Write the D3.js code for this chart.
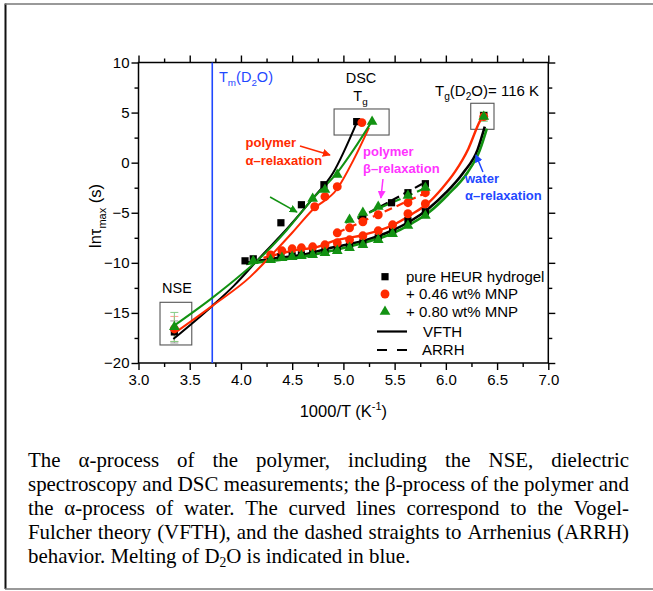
<!DOCTYPE html>
<html><head><meta charset="utf-8">
<script src="https://cdn.jsdelivr.net/npm/d3@7"></script>
<style>body{margin:0;background:#fff}svg{display:block}</style>
</head><body>
<svg id="c" width="653" height="591"></svg>
<script>
// ---------- data ----------
const xTicks = [3.0,3.5,4.0,4.5,5.0,5.5,6.0,6.5,7.0];
const yTicks = [-20,-15,-10,-5,0,5,10];
const legendLabels = ["pure HEUR hydrogel","+ 0.46 wt% MNP","+ 0.80 wt% MNP","VFTH","ARRH"];
const tmD2O = 3.72;

// pure HEUR hydrogel (black squares)
const heurNSE   = [[3.35,-16.9]];
const heurNSEerr = [1.1];
const heurAlpha = [[4.04,-9.8],[4.12,-9.6],[4.39,-6.0],[4.59,-4.2],[4.81,-2.2]];
const heurDSC   = [[5.13,4.1]];
const heurBeta  = [[5.19,-5.4],[5.47,-4.0],[5.63,-3.0],[5.80,-2.1]];
const heurWater = [[4.29,-9.6],[4.39,-9.4],[4.50,-9.3],[4.59,-9.2],[4.70,-9.0],[4.82,-8.8],[4.94,-8.6],[5.06,-8.3],[5.19,-8.0],[5.34,-7.5],[5.48,-6.8],[5.63,-5.8],[5.80,-4.9]];
const heurWaterTg = [[6.37,4.7]];

// + 0.46 wt% MNP (red circles)
const mnp46NSE   = [[3.35,-16.6]];
const mnp46NSEerr = [1.25];
const mnp46Alpha = [[4.72,-4.4],[4.82,-3.4],[4.94,-2.4]];
const mnp46DSC   = [[5.18,4.0]];
const mnp46Beta  = [[4.94,-7.0],[5.06,-6.5],[5.19,-5.9],[5.34,-5.2],[5.63,-4.0],[5.80,-3.0]];
const mnp46Water = [[4.29,-9.2],[4.40,-8.8],[4.50,-8.6],[4.59,-8.5],[4.70,-8.4],[4.82,-8.2],[4.94,-8.0],[5.06,-7.7],[5.19,-7.3],[5.34,-6.8],[5.48,-6.2],[5.63,-5.1],[5.80,-4.1]];
const mnp46WaterTg = [[6.37,4.6]];

// + 0.80 wt% MNP (green triangles)
const mnp80NSE   = [[3.35,-16.4]];
const mnp80NSEerr = [1.45];
const mnp80Alpha = [[4.70,-3.6],[4.82,-2.7],[4.94,-1.2]];
const mnp80DSC   = [[5.28,4.1]];
const mnp80Beta  = [[5.06,-5.7],[5.19,-5.0],[5.34,-4.4],[5.63,-3.3],[5.80,-2.5]];
const mnp80Water = [[4.12,-9.8],[4.29,-9.7],[4.40,-9.5],[4.50,-9.4],[4.59,-9.3],[4.70,-9.2],[4.82,-9.0],[4.94,-8.8],[5.06,-8.5],[5.19,-8.2],[5.34,-7.7],[5.48,-7.1],[5.63,-6.3],[5.80,-5.3]];
const mnp80WaterTg = [[6.37,4.6]];

// VFTH fit curves
const heurAlphaVFTH  = [[3.34,-17.6],[3.72,-14.3],[3.93,-12.3],[4.2,-9.3],[4.45,-6.6],[4.7,-3.6],[4.9,-1.0],[5.13,4.0]];
const mnp46AlphaVFTH = [[3.34,-17.1],[3.72,-14.3],[4.09,-11.4],[4.3,-9.2],[4.5,-7.0],[4.70,-4.7],[4.94,-2.6],[5.1,0.3],[5.25,3.5]];
const mnp80AlphaVFTH = [[3.33,-16.4],[3.72,-13.5],[4.0,-11.2],[4.2,-9.4],[4.45,-6.7],[4.70,-3.6],[4.94,-1.0],[5.1,1.3],[5.27,4.0]];
const heurWaterVFTH  = [[4.05,-10.0],[4.3,-9.6],[4.6,-9.2],[4.88,-8.5],[5.2,-7.8],[5.47,-6.8],[5.66,-5.8],[5.83,-4.6],[6.0,-3.0],[6.17,-1.0],[6.31,1.3],[6.38,3.6]];
const mnp46WaterVFTH = [[4.22,-9.5],[4.5,-8.8],[4.78,-8.3],[4.88,-7.9],[5.2,-7.2],[5.47,-6.3],[5.66,-5.2],[5.83,-4.0],[5.96,-2.6],[6.09,-0.9],[6.22,1.4],[6.33,4.1],[6.37,4.8]];
const mnp80WaterVFTH = [[4.05,-10.1],[4.3,-9.8],[4.6,-9.4],[4.88,-8.8],[5.2,-8.0],[5.47,-7.1],[5.66,-6.1],[5.83,-5.0],[6.02,-3.2],[6.21,-1.0],[6.33,1.2],[6.40,3.4]];
// ARRH straight lines (beta process)
const heurBetaARRH  = [[5.14,-5.6],[5.81,-1.9]];
const mnp46BetaARRH = [[4.94,-7.0],[5.81,-3.0]];
const mnp80BetaARRH = [[5.02,-6.0],[5.81,-2.5]];

// ---------- drawing ----------
const BLACK="#000000", RED="#ff2a00", GREEN="#129212", MAG="#ff33ff", BLUE="#1f48ff";
const SANS="'Liberation Sans', Arial, sans-serif";
const SERIF="'Liberation Serif','Times New Roman', serif";

const svg = d3.select("#c");
const x = d3.scaleLinear().domain([3,7]).range([138.5,548.3]);
const y = d3.scaleLinear().domain([-20,10]).range([363,62.5]);

// outer frame of the figure
svg.append("line").attr("x1",5.5).attr("x2",5.5).attr("y1",3.5).attr("y2",589).attr("stroke","#111").attr("stroke-width",2);
svg.append("line").attr("x1",5).attr("x2",653).attr("y1",4).attr("y2",4).attr("stroke","#777").attr("stroke-width",1.5);
svg.append("line").attr("x1",5).attr("x2",653).attr("y1",589).attr("y2",589).attr("stroke","#777").attr("stroke-width",1.5);

const defs = svg.append("defs");
function marker(id,color){
  defs.append("marker").attr("id",id).attr("viewBox","0 0 10 10").attr("refX",9).attr("refY",5)
    .attr("markerWidth",8).attr("markerHeight",8).attr("markerUnits","userSpaceOnUse").attr("orient","auto")
    .append("path").attr("d","M0,0 L10,5 L0,10 z").attr("fill",color);
}
marker("aR",RED); marker("aG",GREEN); marker("aM",MAG); marker("aB",BLUE);

// axes
const minorX = d3.range(3,7.001,0.25).filter(v=>Math.abs(v*2-Math.round(v*2))>1e-6);
const minorY = d3.range(-20,10.001,2.5).filter(v=>Math.abs(v/5-Math.round(v/5))>1e-6);
function styleAxis(g){ g.select(".domain").remove(); g.selectAll("line").attr("stroke","#000").attr("stroke-width",1.4);
  g.selectAll("text").attr("font-family",SANS).attr("font-size",15).attr("fill","#000"); }
const H=y(-20), T=y(10), L=x(3), R=x(7);
svg.append("g").attr("transform",`translate(0,${H})`).call(d3.axisBottom(x).tickValues(xTicks).tickFormat(d3.format(".1f")).tickSize(7).tickPadding(4)).call(styleAxis);
svg.append("g").attr("transform",`translate(0,${H})`).call(d3.axisBottom(x).tickValues(minorX).tickFormat("").tickSize(4)).call(styleAxis);
svg.append("g").attr("transform",`translate(0,${T})`).call(d3.axisTop(x).tickValues(xTicks).tickFormat("").tickSize(7)).call(styleAxis);
svg.append("g").attr("transform",`translate(0,${T})`).call(d3.axisTop(x).tickValues(minorX).tickFormat("").tickSize(4)).call(styleAxis);
svg.append("g").attr("transform",`translate(${L},0)`).call(d3.axisLeft(y).tickValues(yTicks).tickFormat(d3.format("d")).tickSize(7).tickPadding(2)).call(styleAxis);
svg.append("g").attr("transform",`translate(${L},0)`).call(d3.axisLeft(y).tickValues(minorY).tickFormat("").tickSize(4)).call(styleAxis);
svg.append("g").attr("transform",`translate(${R},0)`).call(d3.axisRight(y).tickValues(yTicks).tickFormat("").tickSize(7)).call(styleAxis);
svg.append("g").attr("transform",`translate(${R},0)`).call(d3.axisRight(y).tickValues(minorY).tickFormat("").tickSize(4)).call(styleAxis);
svg.append("rect").attr("x",L).attr("y",T).attr("width",R-L).attr("height",H-T).attr("fill","none").attr("stroke","#000").attr("stroke-width",1.5);

// axis titles
const xt = svg.append("text").attr("x",(L+R)/2).attr("y",417).attr("text-anchor","middle").attr("font-family",SANS).attr("font-size",16.5);
xt.append("tspan").text("1000/T (K");
xt.append("tspan").attr("font-size",11).attr("dy",-7).text("-1");
xt.append("tspan").attr("dy",7).text(")");
const yt = svg.append("text").attr("transform","translate(101,216) rotate(-90)").attr("text-anchor","middle").attr("font-family",SANS).attr("font-size",16.5);
yt.append("tspan").text("lnτ");
yt.append("tspan").attr("font-size",11).attr("dy",5).text("max");
yt.append("tspan").attr("dy",-5).text(" (s)");

// Tm(D2O) line
svg.append("line").attr("x1",x(tmD2O)).attr("x2",x(tmD2O)).attr("y1",y(-20)).attr("y2",y(10)).attr("stroke",BLUE).attr("stroke-width",1.6);

// boxes
function box(x0,x1,y0,y1){ svg.append("rect").attr("x",x(x0)).attr("y",y(y1)).attr("width",x(x1)-x(x0)).attr("height",y(y0)-y(y1))
  .attr("fill","none").attr("stroke","#555").attr("stroke-width",1.1); }
box(4.909,5.446,2.76,5.36);
box(3.21,3.52,-18.2,-13.94);
box(6.243,6.47,3.33,5.93);

// error bars
function errbars(pts,errs,color){
  pts.forEach((p,i)=>{ const e=errs[i], cx=x(p[0]);
    const g=svg.append("g").attr("stroke",color).attr("stroke-width",1);
    g.append("line").attr("x1",cx).attr("x2",cx).attr("y1",y(p[1]-e)).attr("y2",y(p[1]+e));
    [p[1]-e,p[1]+e].forEach(v=>g.append("line").attr("x1",cx-4).attr("x2",cx+4).attr("y1",y(v)).attr("y2",y(v)));
  });
}
errbars(heurNSE,heurNSEerr,"#9a9a9a");
errbars(mnp46NSE,mnp46NSEerr,"#ff9c8c");
errbars(mnp80NSE,mnp80NSEerr,"#84cc84");
errbars(mnp80WaterTg,[0.45],"#5cb85c");
errbars(mnp46WaterTg,[0.3],"#ff8c7c");

// lines
const curve = d3.line().x(d=>x(d[0])).y(d=>y(d[1])).curve(d3.curveMonotoneX);
const straight = d3.line().x(d=>x(d[0])).y(d=>y(d[1]));
function path(data,color,w,gen,dash){ const p=svg.append("path").attr("d",gen(data)).attr("fill","none").attr("stroke",color).attr("stroke-width",w);
  if(dash) p.attr("stroke-dasharray",dash); }
path(heurWaterVFTH,BLACK,2.6,curve);
path(mnp80WaterVFTH,GREEN,2.6,curve);
path(mnp46WaterVFTH,RED,2.4,curve);
path(heurAlphaVFTH,BLACK,2,curve);
path(mnp46AlphaVFTH,RED,2,curve);
path(mnp80AlphaVFTH,GREEN,2,curve);
path(heurBetaARRH,BLACK,2.2,straight,"8,5");
path(mnp46BetaARRH,RED,2.2,straight,"8,5");
path(mnp80BetaARRH,GREEN,2.2,straight,"8,5");

// points
const sq = d3.symbol().type(d3.symbolSquare).size(52);
const ci = d3.symbol().type(d3.symbolCircle).size(62);
const tr = d3.symbol().type(d3.symbolTriangle).size(50);
function pts(data,sym,color){ svg.append("g").selectAll("path").data(data).join("path")
  .attr("transform",d=>`translate(${x(d[0])},${y(d[1])})`).attr("d",sym).attr("fill",color); }
[heurNSE,heurAlpha,heurDSC,heurBeta,heurWater,heurWaterTg].forEach(d=>pts(d,sq,BLACK));
[mnp46NSE,mnp46Alpha,mnp46DSC,mnp46Beta,mnp46Water,mnp46WaterTg].forEach(d=>pts(d,ci,RED));
[mnp80NSE,mnp80Alpha,mnp80DSC,mnp80Beta,mnp80Water,mnp80WaterTg].forEach(d=>pts(d,tr,GREEN));

// arrows
function arrow(a,b,color,id){ svg.append("line").attr("x1",x(a[0])).attr("y1",y(a[1])).attr("x2",x(b[0])).attr("y2",y(b[1]))
  .attr("stroke",color).attr("stroke-width",1.5).attr("marker-end",`url(#${id})`); }
arrow([4.576,1.66],[4.869,0.77],RED,"aR");
arrow([4.284,-3.43],[4.547,-4.93],GREEN,"aG");
arrow([5.386,-1.63],[5.366,-3.53],MAG,"aM");
arrow([6.362,-0.93],[6.294,0.77],BLUE,"aB");

// annotation texts
function txt(xp,yp,parts,opt){
  const t=svg.append("text").attr("x",xp).attr("y",yp).attr("font-family",SANS).attr("font-size",opt.size||15)
    .attr("fill",opt.color||"#000").attr("font-weight",opt.bold?"bold":"normal").attr("text-anchor",opt.anchor||"start");
  let shift=0;
  parts.forEach(p=>{ const s=t.append("tspan").text(p.t);
    const want = p.sub?4:0;
    if(p.sub) s.attr("font-size",(opt.size||15)*0.68);
    if(want!==shift){ s.attr("dy",want-shift); shift=want; }
  });
  return t;
}
txt(219,81.5,[{t:"T"},{t:"m",sub:1},{t:"(D"},{t:"2",sub:1},{t:"O)"}],{color:BLUE,size:14.5});
txt(361,82.5,[{t:"DSC"}],{size:14.5,anchor:"middle"});
txt(360.5,100.5,[{t:"T"},{t:"g",sub:1}],{size:14.5,anchor:"middle"});
txt(435,96,[{t:"T"},{t:"g",sub:1},{t:"(D"},{t:"2",sub:1},{t:"O)= 116 K"}],{size:15});
txt(177,293,[{t:"NSE"}],{size:14.5,anchor:"middle"});
txt(245.5,147,[{t:"polymer"}],{color:RED,bold:1,size:13});
txt(245.5,164.5,[{t:"α–relaxation"}],{color:RED,bold:1,size:13});
txt(363,155.5,[{t:"polymer"}],{color:MAG,bold:1,size:13});
txt(363,173,[{t:"β–relaxation"}],{color:MAG,bold:1,size:13});
txt(465,183,[{t:"water"}],{color:BLUE,bold:1,size:13});
txt(465,200,[{t:"α–relaxation"}],{color:BLUE,bold:1,size:13});

// legend
const lg = svg.append("g");
const lgY = [276.7,294,311.7,331.5,350];
lg.append("path").attr("transform",`translate(385,${lgY[0]})`).attr("d",sq).attr("fill",BLACK);
lg.append("path").attr("transform",`translate(385,${lgY[1]})`).attr("d",ci).attr("fill",RED);
lg.append("path").attr("transform",`translate(385,${lgY[2]})`).attr("d",tr).attr("fill",GREEN);
lg.append("line").attr("x1",377).attr("x2",407).attr("y1",lgY[3]).attr("y2",lgY[3]).attr("stroke","#000").attr("stroke-width",2.2);
lg.append("line").attr("x1",377).attr("x2",408).attr("y1",lgY[4]).attr("y2",lgY[4]).attr("stroke","#000").attr("stroke-width",2.2).attr("stroke-dasharray","10,10");
const lgX=[406,406,406,423,422];
legendLabels.forEach((s,i)=>lg.append("text").attr("x",lgX[i]).attr("y",lgY[i]+5.3).attr("font-family",SANS).attr("font-size",15).text(s));

// caption (justified)
const capLines = [
 "The α-process of the polymer, including the NSE, dielectric",
 "spectroscopy and DSC measurements; the β-process of the polymer and",
 "the α-process of water. The curved lines correspond to the Vogel-",
 "Fulcher theory (VFTH), and the dashed straights to Arrhenius (ARRH)"
];
const capX0=28, capW=601, capY0=467, capLH=24;
// size chosen so that the tightest line fills the width
const probe = svg.append("text").attr("font-family",SERIF).attr("font-size",20).text(capLines[1]);
const fs = 20*capW/probe.node().getComputedTextLength();
probe.remove();
capLines.forEach((line,i)=>{
  const words=line.split(" ");
  const g=svg.append("g");
  const nodes=words.map(w=>g.append("text").attr("font-family",SERIF).attr("font-size",fs).attr("y",capY0+i*capLH).text(w));
  const widths=nodes.map(n=>n.node().getComputedTextLength());
  const gap=(capW-d3.sum(widths))/(words.length-1);
  let cx=capX0;
  nodes.forEach((n,j)=>{ n.attr("x",cx); cx+=widths[j]+gap; });
});
const last = svg.append("text").attr("x",capX0).attr("y",capY0+4*capLH).attr("font-family",SERIF).attr("font-size",fs);
last.append("tspan").text("behavior. Melting of D");
last.append("tspan").attr("font-size",fs*0.65).attr("dy",4).text("2");
last.append("tspan").attr("dy",-4).text("O is indicated in blue.");
</script>
</body></html>
